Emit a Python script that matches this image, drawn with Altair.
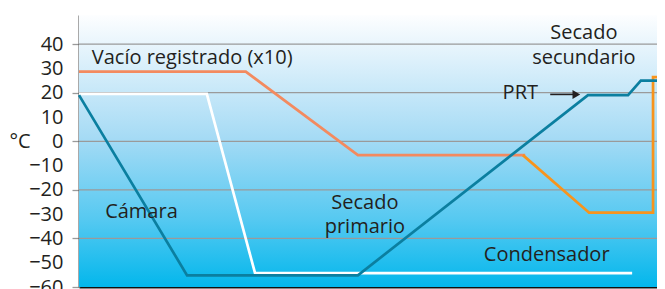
import altair as alt
import pandas as pd

# x: time as % of the cycle, y: temperature in °C
camara_x = [0, 18.6, 48.0, 87.6, 94.5, 96.7, 100]
camara_y = [19, -55.2, -55.2, 19, 19, 25, 25]
cond_x = [0, 22.0, 30.3, 95.2]
cond_y = [19.5, 19.5, -54.3, -54.3]
vacio_x = [0, 28.7, 48.0, 76.8]
vacio_y = [28.7, 28.7, -5.7, -5.7]
prod_x = [76.4, 87.8, 98.8, 98.8, 100]
prod_y = [-5.7, -29.4, -29.4, 26.4, 26.4]

grid_values = [40, 20, 0, -20, -40]
tick_labels = [-60, -50, -40, -30, -20, -10, 0, 10, 20, 30, 40]

labels_left = ["Vacío registrado (x10)", "Cámara"]
labels_left_x = [2.2, 4.5]
labels_left_y = [34.4, -29.1]
labels_center = ["Secado", "primario", "Condensador", "Secado", "secundario"]
labels_center_x = [49.2, 49.2, 80.5, 86.9, 86.9]
labels_center_y = [-25.4, -35.2, -46.7, 44.7, 34.4]
labels_right = ["PRT"]
labels_right_x = [79.0]
labels_right_y = [19.7]
arrow_x = [81.1, 85.6]
arrow_y = [19.3, 19.3]

FONT = "Open Sans"
TXT = "#231f20"

def series(name, xs, ys):
    return pd.DataFrame({"serie": name, "t": xs, "v": ys, "i": range(len(xs))})

lines = pd.concat([
    series("Condensador", cond_x, cond_y),
    series("Vacío", vacio_x, vacio_y),
    series("Producto", prod_x, prod_y),
    series("Cámara", camara_x, camara_y),
])

# visible plot ends 3px before the 100% mark (page width limit)
xs = alt.Scale(domain=[0, 99.48], nice=False, zero=False)
ys = alt.Scale(domain=[-60, 52], nice=False, zero=False)

X_AXIS = alt.Axis(labels=False, ticks=False, grid=False,
                  title=None, domainColor="#111111", domainWidth=2)
Y_AXIS = alt.Axis(
    values=tick_labels, grid=False, tickSize=7, tickColor="#9a9a9a", tickWidth=1.3,
    tickOpacity=alt.condition("datum.value % 20 == 0", alt.value(1), alt.value(0)),
    labelFont=FONT, labelFontSize=20, labelColor=TXT, labelPadding=9,
    labelOverlap=False, labelFlush=False,
    domainColor="#555555", domainWidth=2,
    title="°C", titleAngle=0, titleAlign="left", titleBaseline="middle",
    titleX=-70, titleY=126, titleFont=FONT, titleFontSize=20,
    titleFontWeight="normal", titleColor=TXT)

def X(f="t:Q"):
    return alt.X(f, scale=xs, axis=X_AXIS)

def Y(f="v:Q"):
    return alt.Y(f, scale=ys, axis=Y_AXIS)

bg = alt.Chart(pd.DataFrame({"t": [0], "t2": [100], "v": [-60], "v2": [52]})).mark_rect(
    fill=alt.Gradient(gradient="linear", x1=0, x2=0, y1=0, y2=1, stops=[
        alt.GradientStop(offset=0, color="#fdfeff"),
        alt.GradientStop(offset=0.12, color="#e6f4fc"),
        alt.GradientStop(offset=0.45, color="#a6dbf5"),
        alt.GradientStop(offset=0.75, color="#56c9f1"),
        alt.GradientStop(offset=1, color="#03b7ec"),
    ])
).encode(x=X(), x2="t2:Q", y=Y(), y2="v2:Q")

grid = alt.Chart(pd.DataFrame({"v": grid_values})).mark_rule(
    color="#9a9a9a", strokeWidth=1.3).encode(y=Y())

def line(name, color):
    return alt.Chart(lines).transform_filter(alt.datum.serie == name).mark_line(
        color=color, strokeWidth=2.7).encode(x=X(), y=Y(), order="i:Q")

def texts(txt, xv, yv, align):
    df = pd.DataFrame({"txt": txt, "t": xv, "v": yv})
    return alt.Chart(df).mark_text(align=align, baseline="middle", font=FONT,
                                   fontSize=20, color=TXT).encode(
        x=X(), y=Y(), text="txt:N")

arrow_df = pd.DataFrame({"t": arrow_x, "v": arrow_y, "i": [0, 1]})
arrow_line = alt.Chart(arrow_df).mark_line(color="#231f20", strokeWidth=1.6).encode(
    x=X(), y=Y(), order="i:Q")
arrow_head = alt.Chart(arrow_df.tail(1)).mark_point(
    shape="triangle-right", filled=True, color="#231f20", size=80, opacity=1).encode(
    x=X(), y=Y())

chart = alt.layer(
    bg, grid,
    line("Condensador", "#ffffff"),
    line("Vacío", "#f38a5f"),
    line("Producto", "#f7941d"),
    line("Cámara", "#0b7fa0"),
    texts(labels_left, labels_left_x, labels_left_y, "left"),
    texts(labels_center, labels_center_x, labels_center_y, "center"),
    texts(labels_right, labels_right_x, labels_right_y, "right"),
    arrow_line, arrow_head,
).properties(
    width=578, height=272,
    padding={"left": 71, "top": 7, "right": 0, "bottom": 4},
    autosize=alt.AutoSizeParams(type="none"),
).configure_view(stroke=None)

chart.save("out.html", embed_options={"renderer": "svg", "actions": False})
